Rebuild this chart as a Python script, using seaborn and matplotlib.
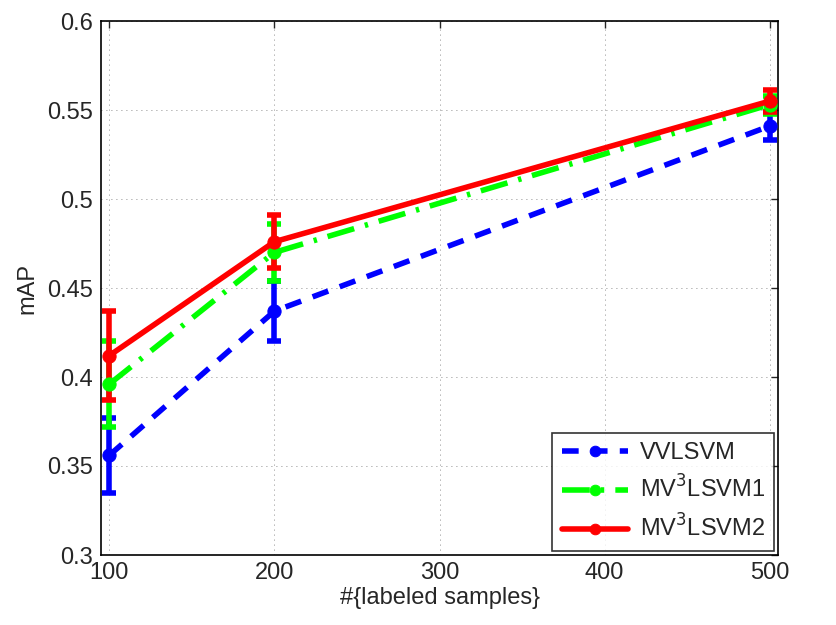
import numpy as np
import pandas as pd
import seaborn as sns
import matplotlib.pyplot as plt

# data
samples = [100, 200, 500]
methods = ["VVLSVM", "MV$^3$LSVM1", "MV$^3$LSVM2"]
vv_map = [0.356, 0.437, 0.541]
vv_err = [0.021, 0.017, 0.008]
mv1_map = [0.396, 0.470, 0.553]
mv1_err = [0.024, 0.016, 0.005]
mv2_map = [0.412, 0.476, 0.555]
mv2_err = [0.025, 0.015, 0.006]

colors = ["#0000ff", "#00ff00", "#ff0000"]
styles = [(0, (3, 2.2)), (0, (5, 2, 0.6, 2)), "-"]

df = pd.DataFrame({
    "samples": samples * 3,
    "mAP": vv_map + mv1_map + mv2_map,
    "err": vv_err + mv1_err + mv2_err,
    "method": np.repeat(methods, 3),
})

sns.set_style("white")
plt.rcParams['font.family'] = ['Liberation Sans', 'DejaVu Sans']

fig = plt.figure(figsize=(8.37, 6.25), dpi=100)
ax = fig.add_axes([0.1207, 0.112, 0.8088, 0.8544])

for m, c, ls in zip(methods, colors, styles):
    d = df[df["method"] == m]
    ax.errorbar(d["samples"], d["mAP"], yerr=d["err"], fmt="none",
                ecolor=c, elinewidth=4, capsize=5, capthick=4, zorder=2)
    sns.lineplot(data=d, x="samples", y="mAP", ax=ax, color=c, linestyle=ls,
                 linewidth=4, marker="o", markersize=9.5, markeredgecolor=c,
                 label=m, zorder=3)

ax.set_xlim(95, 505)
ax.set_ylim(0.3, 0.6)
ax.set_xticks([100, 200, 300, 400, 500])
ax.set_yticks(np.arange(0.3, 0.601, 0.05))
ax.set_yticklabels(["0.3", "0.35", "0.4", "0.45", "0.5", "0.55", "0.6"])
ax.grid(True, linestyle=(0, (1, 5)), color="black", linewidth=0.6, alpha=0.6)
ax.tick_params(labelsize=17, direction="in", length=5, width=1, top=True, right=True)
ax.tick_params(axis="x", pad=5)
ax.tick_params(axis="y", pad=6)
ax.set_xlabel("#{labeled samples}", fontsize=17, labelpad=2)
ax.set_ylabel("mAP", fontsize=17, labelpad=6)
for s in ax.spines.values():
    s.set_color("black")
    s.set_linewidth(1.2)

leg = ax.legend(loc="lower right", fontsize=17, frameon=True, fancybox=False,
                edgecolor="black", handlelength=2.8, borderpad=0.4,
                labelspacing=0.5, handletextpad=0.5, borderaxespad=0.15,
                markerscale=0.8)
leg.get_frame().set_linewidth(1.2)

plt.savefig("out.png", dpi=100)
